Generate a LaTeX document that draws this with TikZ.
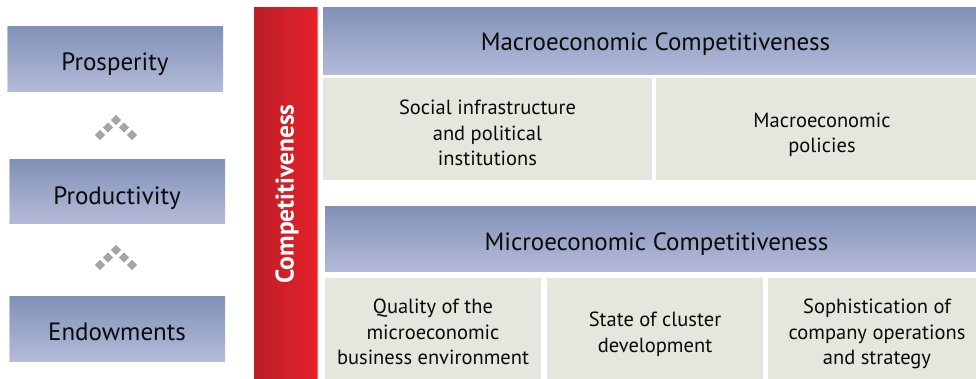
\documentclass[tikz,border=0pt]{standalone}
\usepackage{fontspec}
\setmainfont{PT Sans}
\usetikzlibrary{shapes.geometric}
\definecolor{hdtop}{RGB}{128,145,184}
\definecolor{hdbot}{RGB}{180,187,216}
\definecolor{subfill}{RGB}{230,230,223}
\definecolor{redL}{RGB}{188,30,40}
\definecolor{redR}{RGB}{230,33,42}
\definecolor{diagray}{RGB}{165,165,165}
\definecolor{txt}{RGB}{10,10,10}
\newcommand\firststrut{\rule{0pt}{18pt}}
\tikzset{
  gradbox/.style={top color=hdtop, bottom color=hdbot, draw=none, inner sep=0pt,
    text=txt, font=\fontsize{25}{29}\selectfont, text depth=0pt},
  subbox/.style={fill=subfill, draw=none, inner sep=0pt},
  subtext/.style={anchor=north, inner sep=0pt, text=txt, align=center,
    font=\fontsize{20.5}{25.5}\selectfont},
  chev/.style={diamond, fill=diagray, draw=none, inner sep=0pt, minimum width=10.5pt, minimum height=10.5pt},
  redbar/.style={left color=redL, right color=redR, draw=none, inner sep=0pt}
}
\begin{document}
\begin{tikzpicture}[x=1pt,y=-1pt]
\useasboundingbox (0,0) rectangle (976,378);
\fill[white] (0,0) rectangle (976,378);
\clip (0,0) rectangle (976,378);
% left column
\node[gradbox, minimum width=216pt, minimum height=65pt, text height=23pt] (pros) at (115,58.5) {Prosperity};
\node[gradbox, minimum width=216pt, minimum height=64pt, text height=26pt] (prod) at (117,191) {Productivity};
\node[gradbox, minimum width=216pt, minimum height=65pt, text height=23.5pt] (endo) at (117,328.5) {Endowments};
\foreach \b in {pros,prod,endo}{
  \draw[white, opacity=0.45, line width=1pt] ([xshift=0.5pt]\b.north west) -- ([xshift=0.5pt]\b.south west);
}
% chevrons
\foreach \dy in {0,130}{
  \foreach \cx/\cy in {100/135,108/127.5,116/120,124/127.5,132/135}{
    \node[chev] at (\cx,\cy+\dy) {};
  }
}
% red bar
\node[redbar, minimum width=64pt, minimum height=390pt] (comp) at (286,202) {};
\draw[white, opacity=0.35, line width=1pt] ([xshift=-0.5pt]comp.north east) -- ([xshift=-0.5pt]comp.south east);
\node[rotate=90, text=white, font=\fontsize{25.5}{30}\selectfont\bfseries] (comptxt) at (287,194) {Competitiveness};
% macro
\node[gradbox, minimum width=665pt, minimum height=67pt, text height=19pt] (macro) at (655.5,40.5) {Macroeconomic Competitiveness};
\node[subbox, minimum width=329pt, minimum height=102pt] (social) at (487.5,129) {};
\node[subbox, minimum width=332pt, minimum height=102pt] (macpol) at (822,129) {};
\node[subtext] (socialtxt) at (487.5,114.5-18) {\firststrut Social infrastructure\\and political\\institutions};
\node[subtext] (macpoltxt) at (822,127-18) {\firststrut Macroeconomic\\policies};
% micro
\node[gradbox, minimum width=663pt, minimum height=65pt, text height=23pt] (micro) at (656.5,238.5) {Microeconomic Competitiveness};
\node[subbox, minimum width=216pt, minimum height=108pt] (quality) at (433,332) {};
\node[subbox, minimum width=216pt, minimum height=108pt] (cluster) at (655,332) {};
\node[subbox, minimum width=218pt, minimum height=108pt] (soph) at (877,332) {};
\node[subtext] (qualitytxt) at (433,313.5-18) {\firststrut Quality of the\\microeconomic\\business environment};
\node[subtext] (clustertxt) at (655,326.5-18) {\firststrut State of cluster\\development};
\node[subtext] (sophtxt) at (877,313.5-18) {\firststrut Sophistication of\\company operations\\and strategy};
\end{tikzpicture}
\end{document}
